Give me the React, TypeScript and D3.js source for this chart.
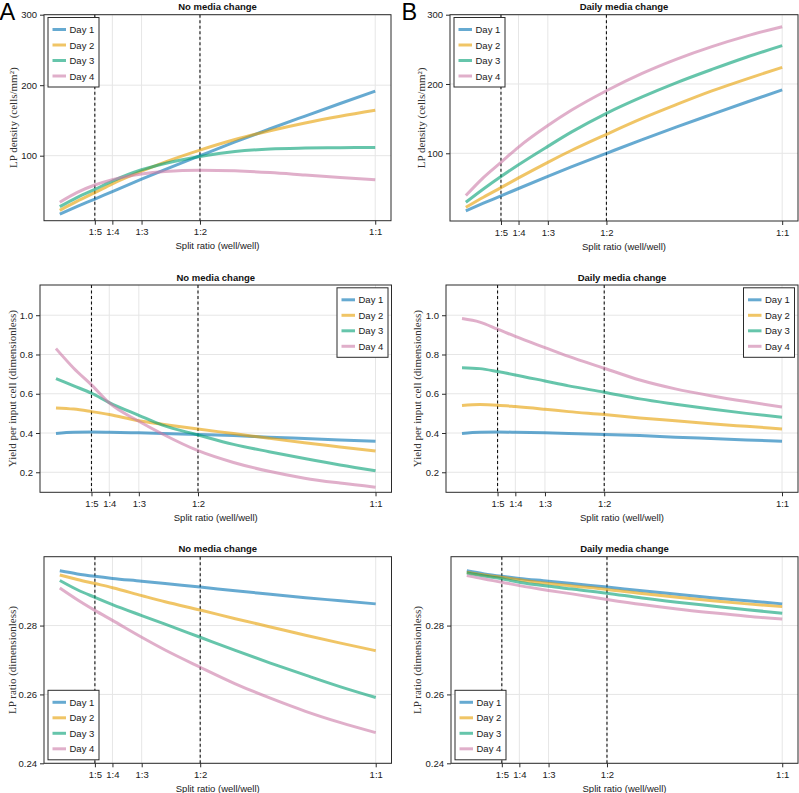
import * as d3 from "d3";
import { useEffect, useRef } from "react";

// split ratio (well/well) at which the model curves were sampled
const splitRatios = [0.1, 0.15, 0.2, 0.25, 1 / 3, 0.4, 0.5, 0.6, 0.7, 0.8, 0.9, 1.0];
const xTicks = [0.2, 0.25, 1 / 3, 0.5, 1];
const xTickLabels = ["1:5", "1:4", "1:3", "1:2", "1:1"];
const guideRatios = [0.2, 0.5];
const dayNames = ["Day 1", "Day 2", "Day 3", "Day 4"];
const dayColors = ["#0072B2", "#E69F00", "#009E73", "#CC79A7"];

// LP density (cells/mm^2)
const densityNoChange = [
	[17, 28, 38.5, 49.2, 66.7, 80.3, 100, 119.5, 138.2, 156.2, 174, 191.5],
	[22.5, 35.5, 47.5, 60, 78, 91, 108, 123, 135.5, 146.5, 156, 164.5],
	[27.7, 41, 52.3, 64, 80, 89, 99, 106, 109.5, 110.8, 111.4, 111.8],
	[34, 48, 58.4, 66, 74, 77.5, 79.3, 78.5, 76, 72.5, 69, 66]
];
const densityDaily = [
	[17, 28, 38.5, 49.2, 66.7, 80.3, 100, 119.5, 138.2, 156.2, 174, 191.5],
	[22, 36.5, 50.4, 64.5, 87, 104, 127.4, 150, 170.5, 190, 207.5, 224],
	[29.3, 48.5, 66.5, 83.5, 110, 130.5, 157.7, 181, 202, 221, 239, 255.3],
	[39, 65, 87, 109, 140, 162, 190.3, 215, 236, 254, 269.5, 282.7]
];

// yield per input cell
const yieldNoChange = [
	[0.398, 0.404, 0.405, 0.404, 0.401, 0.398, 0.393, 0.387, 0.379, 0.372, 0.365, 0.358],
	[0.528, 0.522, 0.509, 0.494, 0.462, 0.445, 0.42, 0.397, 0.373, 0.35, 0.329, 0.308],
	[0.677, 0.64, 0.603, 0.555, 0.49, 0.44, 0.39, 0.342, 0.305, 0.27, 0.237, 0.208],
	[0.83, 0.73, 0.645, 0.553, 0.46, 0.395, 0.31, 0.25, 0.205, 0.17, 0.145, 0.124]
];
const yieldDaily = [
	[0.398, 0.404, 0.405, 0.404, 0.401, 0.398, 0.393, 0.387, 0.379, 0.372, 0.365, 0.358],
	[0.54, 0.545, 0.542, 0.535, 0.521, 0.509, 0.494, 0.477, 0.462, 0.447, 0.434, 0.421],
	[0.733, 0.728, 0.713, 0.696, 0.665, 0.64, 0.608, 0.574, 0.547, 0.522, 0.5, 0.48],
	[0.983, 0.965, 0.929, 0.892, 0.835, 0.79, 0.73, 0.67, 0.625, 0.59, 0.56, 0.533]
];

// LP ratio
const ratioNoChange = [
	[0.2959, 0.295, 0.2943, 0.2937, 0.2929, 0.2922, 0.2912, 0.2901, 0.2891, 0.2881, 0.2872, 0.2863],
	[0.2947, 0.2934, 0.2922, 0.291, 0.2887, 0.2869, 0.2845, 0.282, 0.2796, 0.2772, 0.2749, 0.2727],
	[0.2931, 0.2904, 0.2882, 0.2861, 0.2829, 0.2804, 0.2766, 0.2728, 0.2691, 0.2656, 0.2622, 0.2591],
	[0.2909, 0.2875, 0.2844, 0.2815, 0.2766, 0.2729, 0.2679, 0.2631, 0.2589, 0.2551, 0.2518, 0.2489]
];
const ratioDaily = [
	[0.2959, 0.295, 0.2943, 0.2937, 0.2929, 0.2922, 0.2912, 0.2901, 0.2891, 0.2881, 0.2872, 0.2863],
	[0.2955, 0.2947, 0.294, 0.2933, 0.2922, 0.2915, 0.2905, 0.2893, 0.2882, 0.2872, 0.2863, 0.2855],
	[0.2953, 0.2944, 0.2936, 0.2926, 0.2914, 0.2906, 0.2894, 0.288, 0.2868, 0.2857, 0.2846, 0.2836],
	[0.2945, 0.2935, 0.2926, 0.2916, 0.2902, 0.2892, 0.2876, 0.2861, 0.2848, 0.2837, 0.2827, 0.2819]
];

const densityTicks = [100, 200, 300];
const yieldTicks = [0.2, 0.4, 0.6, 0.8, 1.0];
const ratioTicks = [0.24, 0.26, 0.28];

const SANS = "'Liberation Sans', Arial, sans-serif";
const SERIF = "'Liberation Serif', 'DejaVu Serif', serif";

const panels = [
	{ tag: "A", title: "No media change", series: densityNoChange, ylabel: "LP density (cells/mm²)", yDomain: [7.8, 300], yTicks: densityTicks, fmt: d3.format("d"), left: 44, right: 391, top: 14.7, bottom: 220.7, legend: "tl", labelX: 13 },
	{ tag: "B", title: "Daily media change", series: densityDaily, ylabel: "LP density (cells/mm²)", yDomain: [2.3, 300], yTicks: densityTicks, fmt: d3.format("d"), left: 450, right: 798, top: 14.7, bottom: 221, legend: "tl", labelX: 420.5 },
	{ title: "No media change", series: yieldNoChange, ylabel: "Yield per input cell (dimensionless)", yDomain: [0.098, 1.154], yTicks: yieldTicks, fmt: d3.format(".1f"), left: 40, right: 391.5, top: 285, bottom: 492.3, legend: "tr", labelX: 12 },
	{ title: "Daily media change", series: yieldDaily, ylabel: "Yield per input cell (dimensionless)", yDomain: [0.098, 1.154], yTicks: yieldTicks, fmt: d3.format(".1f"), left: 446, right: 798, top: 285, bottom: 492.3, legend: "tr", labelX: 417 },
	{ title: "No media change", series: ratioNoChange, ylabel: "LP ratio (dimensionless)", yDomain: [0.24, 0.3], yTicks: ratioTicks, fmt: d3.format(".2f"), left: 44, right: 391.5, top: 556.7, bottom: 763.3, legend: "bl", labelX: 12 },
	{ title: "Daily media change", series: ratioDaily, ylabel: "LP ratio (dimensionless)", yDomain: [0.24, 0.3], yTicks: ratioTicks, fmt: d3.format(".2f"), left: 451, right: 798, top: 556.7, bottom: 763.3, legend: "bl", labelX: 417 }
];

const drawPanel = (svg, p) => {
	const x = d3.scaleLinear().domain([0.055, 1.045]).range([p.left, p.right]);
	const y = d3.scaleLinear().domain(p.yDomain).range([p.bottom, p.top]);
	const g = svg.append("g");

	// grid
	g.selectAll(".vgrid")
		.data(xTicks)
		.enter()
		.append("line")
		.attr("x1", d => x(d))
		.attr("x2", d => x(d))
		.attr("y1", p.top)
		.attr("y2", p.bottom)
		.attr("stroke", "#e6e6e6")
		.attr("stroke-width", 1);
	g.selectAll(".hgrid")
		.data(p.yTicks)
		.enter()
		.append("line")
		.attr("x1", p.left)
		.attr("x2", p.right)
		.attr("y1", d => y(d))
		.attr("y2", d => y(d))
		.attr("stroke", "#e6e6e6")
		.attr("stroke-width", 1);

	// guide lines at 1:5 and 1:2
	g.selectAll(".guide")
		.data(guideRatios)
		.enter()
		.append("line")
		.attr("x1", d => x(d))
		.attr("x2", d => x(d))
		.attr("y1", p.top)
		.attr("y2", p.bottom)
		.attr("stroke", "#111")
		.attr("stroke-width", 1.1)
		.attr("stroke-dasharray", "3,2.5");

	const line = d3
		.line()
		.x((d, i) => x(splitRatios[i]))
		.y(d => y(d))
		.curve(d3.curveMonotoneX);

	g.selectAll(".series")
		.data(p.series)
		.enter()
		.append("path")
		.attr("d", d => line(d))
		.attr("fill", "none")
		.attr("stroke", (d, i) => dayColors[i])
		.attr("stroke-opacity", 0.6)
		.attr("stroke-width", 3)
		.attr("stroke-linecap", "butt");

	// frame
	g.append("rect")
		.attr("x", p.left)
		.attr("y", p.top)
		.attr("width", p.right - p.left)
		.attr("height", p.bottom - p.top)
		.attr("fill", "none")
		.attr("stroke", "#2b2b2b")
		.attr("stroke-width", 1);

	const xAxis = g
		.append("g")
		.attr("transform", `translate(0, ${p.bottom})`)
		.call(
			d3
				.axisBottom(x)
				.tickValues(xTicks)
				.tickFormat((d, i) => xTickLabels[i])
				.tickSize(4)
				.tickPadding(4)
		);
	const yAxis = g
		.append("g")
		.attr("transform", `translate(${p.left}, 0)`)
		.call(
			d3
				.axisLeft(y)
				.tickValues(p.yTicks)
				.tickFormat(p.fmt)
				.tickSize(4)
				.tickPadding(3)
		);
	[xAxis, yAxis].forEach(a => {
		a.select(".domain").remove();
		a.selectAll("line").attr("stroke", "#2b2b2b");
		a.selectAll("text")
			.attr("fill", "#1a1a1a")
			.style("font-family", SANS)
			.style("font-size", "9.5px");
	});

	// title
	g.append("text")
		.attr("x", (p.left + p.right) / 2)
		.attr("y", p.top - 4.5)
		.attr("text-anchor", "middle")
		.style("font-family", SANS)
		.style("font-size", "9.5px")
		.style("font-weight", "bold")
		.attr("fill", "#111")
		.text(p.title);

	// x label
	g.append("text")
		.attr("x", (p.left + p.right) / 2)
		.attr("y", p.bottom + 28.5)
		.attr("text-anchor", "middle")
		.style("font-family", SANS)
		.style("font-size", "9.5px")
		.attr("fill", "#1a1a1a")
		.text("Split ratio (well/well)");

	// y label
	g.append("text")
		.attr("transform", `translate(${p.labelX}, ${(p.top + p.bottom) / 2}) rotate(-90)`)
		.attr("text-anchor", "middle")
		.attr("dominant-baseline", "central")
		.style("font-family", SERIF)
		.style("font-size", "11px")
		.attr("fill", "#333")
		.text(p.ylabel);

	// legend
	const lw = 51;
	const lh = 69.5;
	const lx = p.legend === "tr" ? p.right - 3.5 - lw : p.left + 4;
	const ly = p.legend === "bl" ? p.bottom - 3.5 - lh : p.top + 2.8;
	const legend = g.append("g").attr("transform", `translate(${lx}, ${ly})`);
	legend
		.append("rect")
		.attr("width", lw)
		.attr("height", lh)
		.attr("fill", "white")
		.attr("stroke", "#2b2b2b")
		.attr("stroke-width", 1);
	const entries = legend
		.selectAll(".entry")
		.data(dayNames)
		.enter()
		.append("g")
		.attr("transform", (d, i) => `translate(0, ${12 + i * 15.5})`);
	entries
		.append("line")
		.attr("x1", 4.5)
		.attr("x2", 18)
		.attr("stroke", (d, i) => dayColors[i])
		.attr("stroke-opacity", 0.6)
		.attr("stroke-width", 3);
	entries
		.append("text")
		.attr("x", 21.5)
		.attr("dominant-baseline", "central")
		.style("font-family", SANS)
		.style("font-size", "9.5px")
		.attr("fill", "#1a1a1a")
		.text(d => d);

	if (p.tag) {
		svg.append("text")
			.attr("x", p.tag === "A" ? -0.5 : 401.5)
			.attr("y", 20)
			.style("font-family", SANS)
			.style("font-size", "23.5px")
			.attr("fill", "#000")
			.text(p.tag);
	}
};

export default function App() {
	const ref = useRef(null);

	useEffect(() => {
		const svg = d3.select(ref.current);
		svg.selectAll("*").remove();
		svg.append("rect").attr("width", 799).attr("height", 793).attr("fill", "white");
		panels.forEach(p => drawPanel(svg, p));
	}, []);

	return (
		<svg
			ref={ref}
			width={799}
			height={793}
			style={{ position: "absolute", left: 0, top: 0, display: "block" }}
		/>
	);
}
